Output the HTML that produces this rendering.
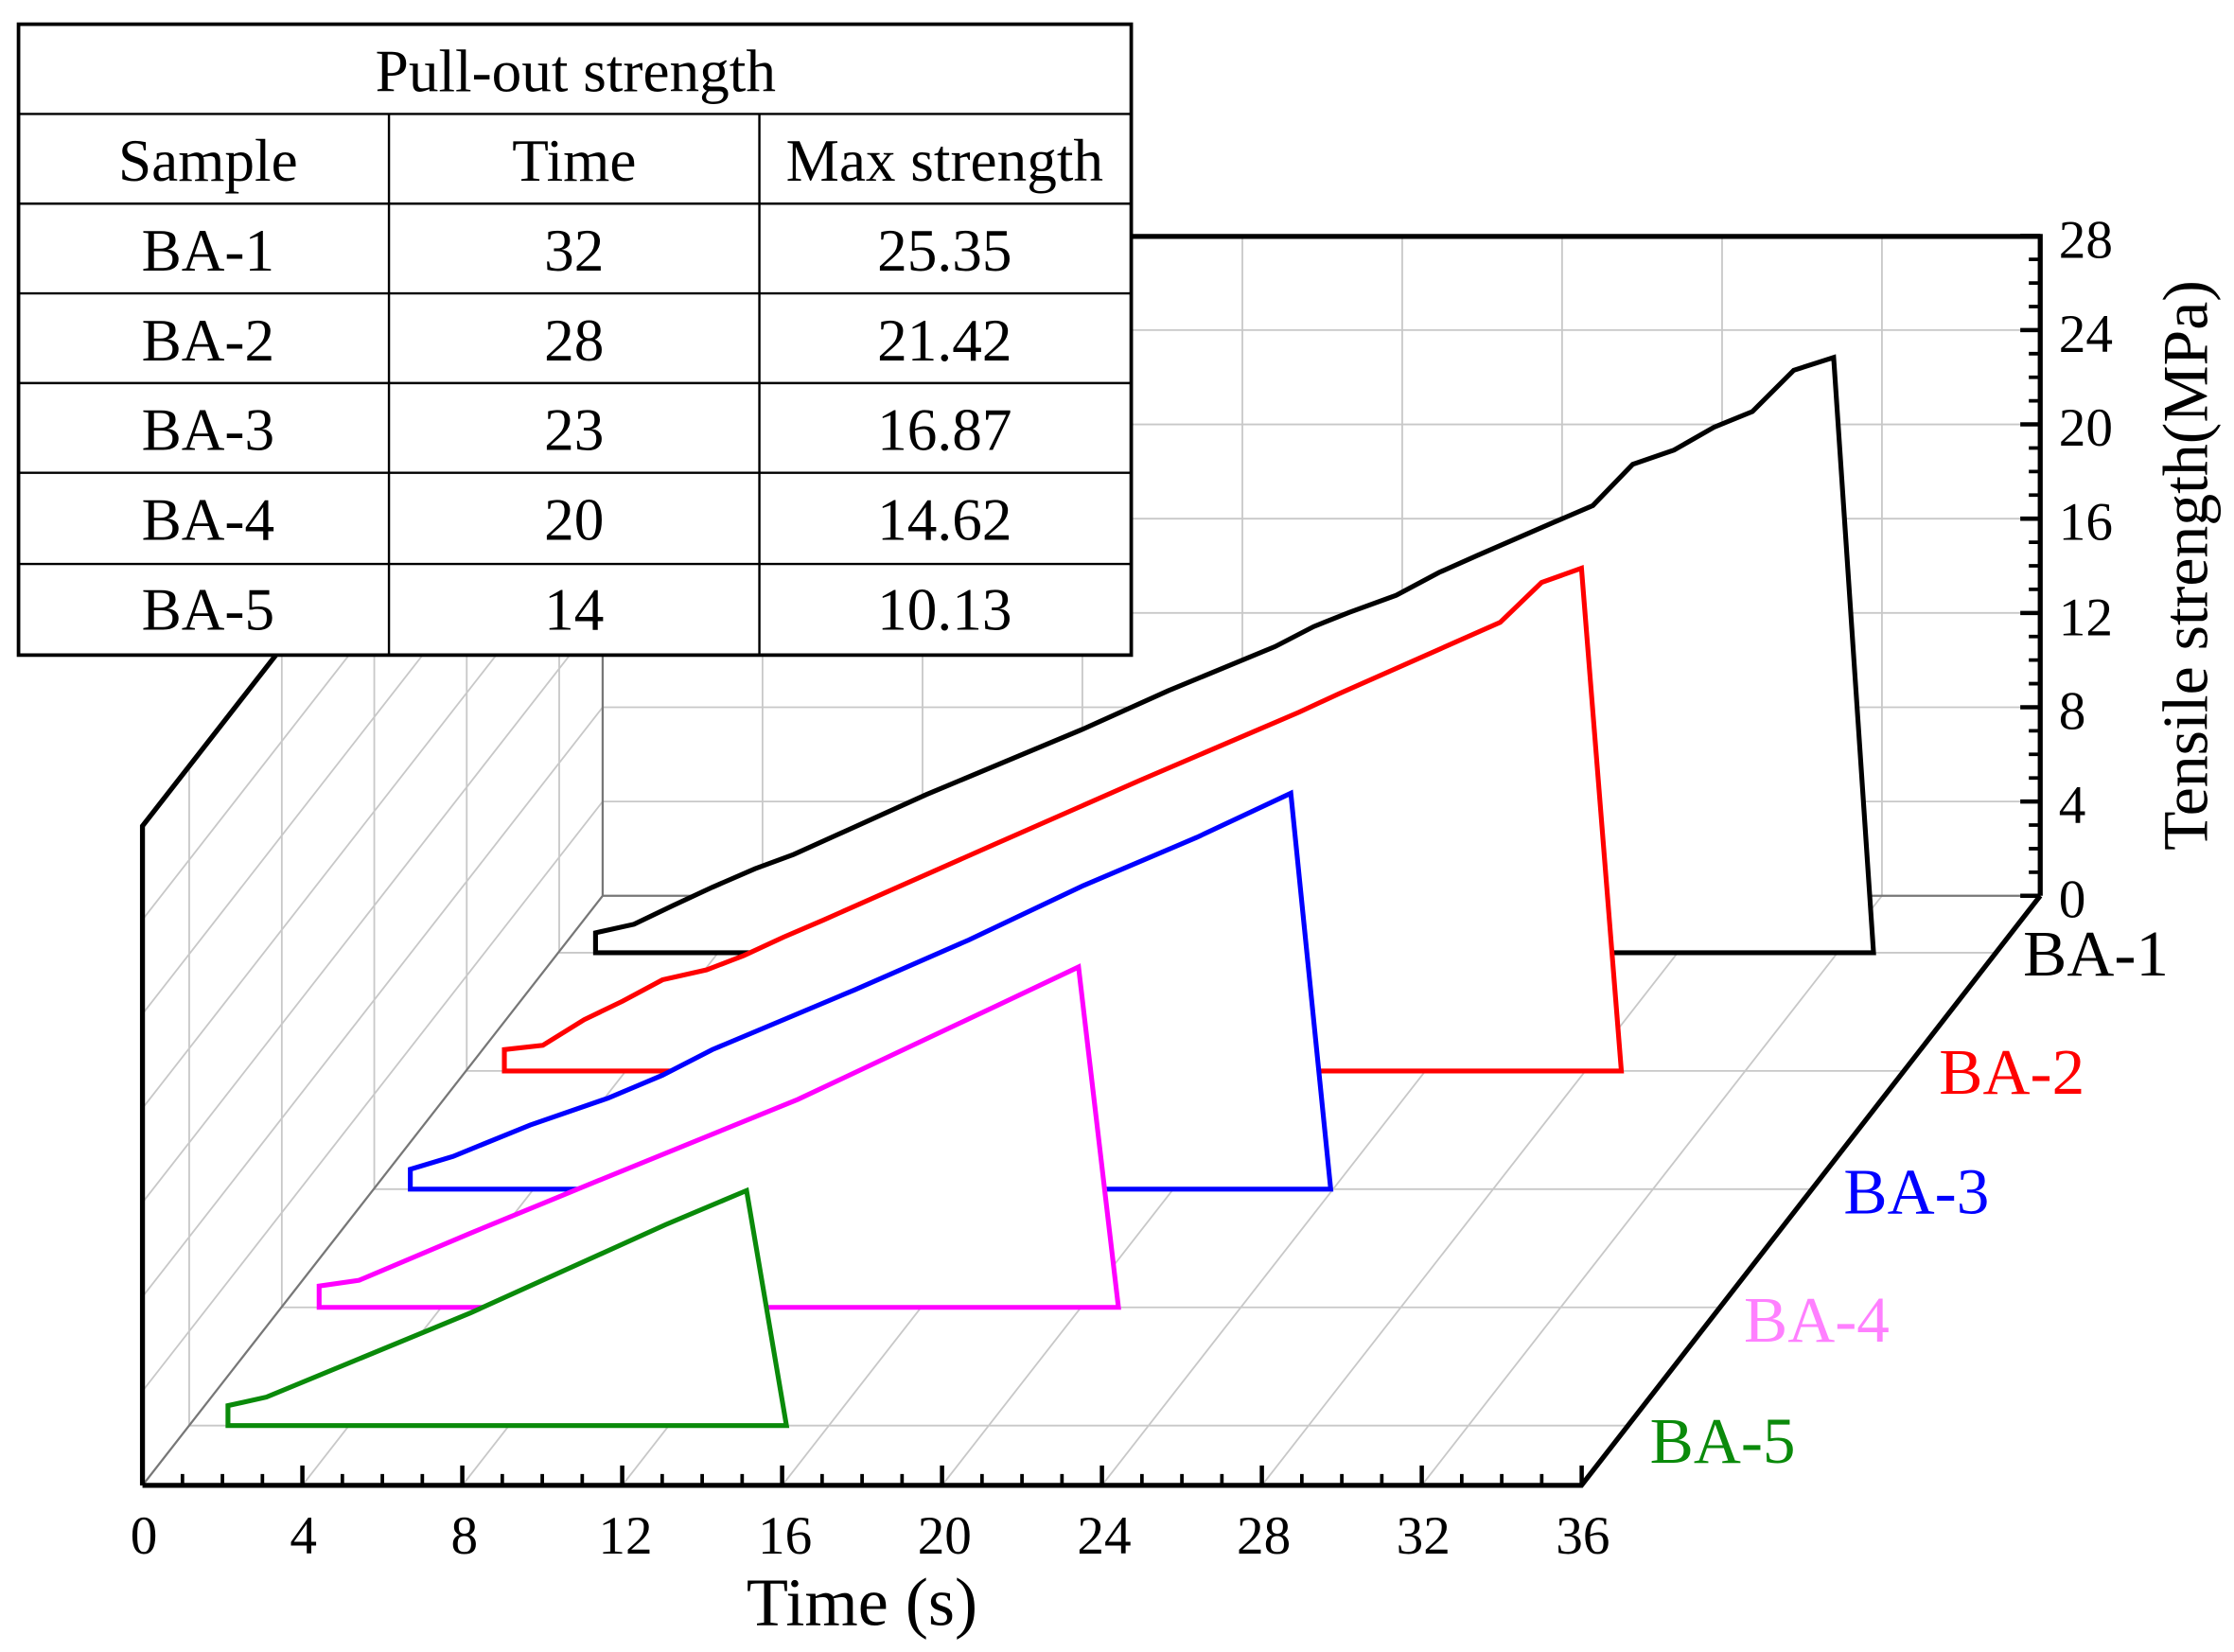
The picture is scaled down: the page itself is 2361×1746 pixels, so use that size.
<!DOCTYPE html>
<html><head><meta charset="utf-8"><style>html,body{margin:0;padding:0;background:#fff}svg{display:block}</style></head>
<body>
<svg xmlns="http://www.w3.org/2000/svg" width="2361" height="1746" viewBox="0 0 1568 1160" preserveAspectRatio="none" font-family="'Liberation Serif', serif">
<rect width="1568" height="1160" fill="#fff"/>
<g stroke="#c8c8c8" stroke-width="1.2" fill="none">
<path d="M535.2 629V166M647.5 629V166M759.7 629V166M872 629V166M984.2 629V166M1096.4 629V166M1208.7 629V166M1320.9 629V166"/>
<path d="M423 562.8H1432M423 496.6H1432M423 430.4H1432M423 364.2H1432M423 298H1432M423 231.8H1432"/>
<path d="M212.2 1043L535.2 629M324.5 1043L647.5 629M436.7 1043L759.7 629M549 1043L872 629M661.2 1043L984.2 629M773.4 1043L1096.4 629M885.7 1043L1208.7 629M997.9 1043L1320.9 629"/>
<path d="M100 976.8L423 562.8M100 910.6L423 496.6M100 844.4L423 430.4M100 778.2L423 364.2M100 712L423 298M100 645.8L423 231.8"/>
<path d="M132.8 1001V538M197.8 918V455M262.7 835V372M327.6 752V289M392.5 669V206"/>
<path d="M132.8 1001H1142.8M197.8 918H1207.8M262.7 835H1272.7M327.6 752H1337.6M392.5 669H1402.5"/>
</g>
<g stroke="#777" stroke-width="1.5" fill="none">
<path d="M100 1043L423 629H1432M423 629V166"/>
</g>
<g stroke-width="3.4" stroke-linejoin="miter" fill="#fff">
<polygon stroke="#000" points="418,669 418,655 445,649 472,636 500,623 530,610 557,600 650,558 760,512 820,485 895,454 922,440 947,430 980,418 1010,402 1037,390 1090,367 1118,355 1146,326 1175,316 1203,300 1230,289 1259,260 1287,251 1315,669"/>
<polygon stroke="#ff0000" points="354,752 354,737 381,734 410,716 437,703 465,688 496,681 522,671 550,658 578,646 700,592 800,548 884,512 912,500 940,487 1053,437 1082,409 1110,399 1138,752"/>
<polygon stroke="#0000ff" points="288,835 288,821 318,812 372,790 427,771 465,755 500,737 600,695 680,660 760,622 840,588 906,557 934,835"/>
<polygon stroke="#ff00ff" points="224,918 224,903 252,899 330,866 420,829 560,772 700,706 757,679 785,918"/>
<polygon stroke="#0a8a0a" points="160,1001 160,987 187,981 330,922 467,860 524,836 552,1001"/>
</g>
<g stroke="#000" fill="none">
<path d="M100 1043H1110L1432 629M100 1043V580L423 166H1432V629" stroke-width="3.5"/>
<line x1="98.75" y1="1039" x2="1112" y2="1039" stroke-width="8" stroke-dasharray="2.5 25.56"/>
<line x1="98.5" y1="1036" x2="1112" y2="1036" stroke-width="14" stroke-dasharray="3 109.24"/>
<line x1="1428" y1="630.25" x2="1428" y2="164" stroke-width="8" stroke-dasharray="2.5 14.05"/>
<line x1="1425" y1="630.5" x2="1425" y2="164" stroke-width="14" stroke-dasharray="3 63.2"/>
</g>
<g font-size="38" fill="#000" text-anchor="middle">
<text x="101" y="1091">0</text><text x="213" y="1091">4</text><text x="326" y="1091">8</text><text x="439" y="1091">12</text><text x="551" y="1091">16</text><text x="663" y="1091">20</text><text x="775" y="1091">24</text><text x="887" y="1091">28</text><text x="999" y="1091">32</text><text x="1111" y="1091">36</text>
</g>
<text x="605" y="1141" font-size="48" text-anchor="middle">Time (s)</text>
<g font-size="38" fill="#000">
<text x="1445" y="644">0</text><text x="1445" y="578">4</text><text x="1445" y="512">8</text><text x="1445" y="446">12</text><text x="1445" y="379">16</text><text x="1445" y="313">20</text><text x="1445" y="247">24</text><text x="1445" y="181">28</text>
</g>
<text transform="translate(1549,397) rotate(-90)" font-size="45" text-anchor="middle">Tensile strength(MPa)</text>
<g font-size="46">
<text x="1420" y="685" fill="#000">BA-1</text>
<text x="1361" y="768" fill="#ff0000">BA-2</text>
<text x="1294" y="852" fill="#0000ff">BA-3</text>
<text x="1224" y="942" fill="#ff80ff">BA-4</text>
<text x="1158" y="1027" fill="#0a8a0a">BA-5</text>
</g>
<rect x="13" y="17" width="781" height="443" fill="#fff" stroke="#000" stroke-width="2.5"/>
<g stroke="#000" stroke-width="1.6">
<path d="M13 80H794M13 143H794M13 206H794M13 269H794M13 332H794M13 396H794M273 80V460M533 80V460"/>
</g>
<g font-size="42" text-anchor="middle" fill="#000">
<text x="404" y="64">Pull-out strength</text>
<text x="146" y="127">Sample</text><text x="403" y="127">Time</text><text x="663" y="127">Max strength</text>
<text x="146" y="190">BA-1</text><text x="403" y="190">32</text><text x="663" y="190">25.35</text>
<text x="146" y="253">BA-2</text><text x="403" y="253">28</text><text x="663" y="253">21.42</text>
<text x="146" y="316">BA-3</text><text x="403" y="316">23</text><text x="663" y="316">16.87</text>
<text x="146" y="379">BA-4</text><text x="403" y="379">20</text><text x="663" y="379">14.62</text>
<text x="146" y="442">BA-5</text><text x="403" y="442">14</text><text x="663" y="442">10.13</text>
</g>
</svg>
</body></html>
